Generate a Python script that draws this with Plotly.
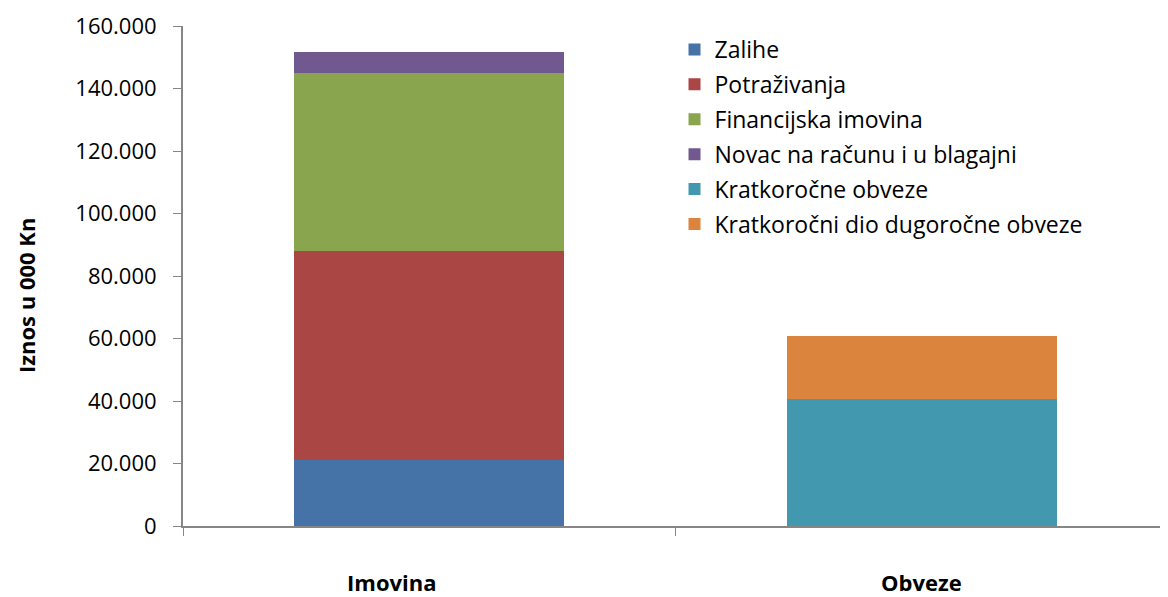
import plotly.graph_objects as go

categories = ["Imovina", "Obveze"]

asset_names = ["Zalihe", "Potraživanja", "Financijska imovina", "Novac na računu i u blagajni"]
asset_values = [21000, 66900, 57000, 6700]
asset_colors = ["#4572a7", "#aa4643", "#89a54e", "#71588f"]

liab_names = ["Kratkoročne obveze", "Kratkoročni dio dugoročne obveze"]
liab_values = [40500, 20200]
liab_colors = ["#4198af", "#db843d"]

FONT = "'Open Sans', sans-serif"
AXIS_GREY = "#868686"

fig = go.Figure()
for name, val, col in zip(asset_names, asset_values, asset_colors):
    fig.add_trace(go.Bar(x=[categories[0]], y=[val], name=name, legendgroup=name,
                         marker=dict(color=col, line=dict(width=0))))
for name, val, col in zip(liab_names, liab_values, liab_colors):
    fig.add_trace(go.Bar(x=[categories[1]], y=[val], name=name, legendgroup=name,
                         marker=dict(color=col, line=dict(width=0))))

# category labels sit low under the axis; the first one is a bit left of its bar
label_shift = {"Imovina": -38, "Obveze": 0}
annotations = [
    dict(text=f"<b>{c}</b>", xref="x", yref="paper", x=c, y=0,
         xanchor="center", yanchor="top", xshift=label_shift[c], yshift=-39,
         showarrow=False, font=dict(size=22))
    for c in categories
]
annotations.append(dict(
    text="<b>Iznos u 000 Kn</b>", textangle=-90,
    xref="paper", yref="paper", x=0, y=0.5, xanchor="center", yanchor="middle",
    xshift=-157, yshift=-20, showarrow=False, font=dict(size=22),
))

# page body has an 8px margin, so the figure is 8px smaller than the window
fig.update_layout(
    barmode="stack",
    bargap=0.452,
    width=1160, height=589,
    paper_bgcolor="white", plot_bgcolor="white",
    separators=",.",
    font=dict(family=FONT, color="black", size=21),
    margin=dict(l=175, r=0, t=18, b=71),
    legend=dict(
        x=0.499, y=0.996, xanchor="left", yanchor="top",
        traceorder="grouped", tracegroupgap=2, font=dict(size=23),
        bgcolor="rgba(0,0,0,0)", itemwidth=30,
    ),
    xaxis=dict(
        type="category", categoryarray=categories,
        showline=True, linecolor=AXIS_GREY, linewidth=2,
        ticks="outside", tickson="boundaries", ticklen=8, tickcolor=AXIS_GREY, tickwidth=1,
        showticklabels=False, showgrid=False,
    ),
    yaxis=dict(
        range=[0, 160000], dtick=20000, tickformat=",d",
        showline=True, linecolor=AXIS_GREY, linewidth=2,
        ticks="outside", ticklen=8, tickcolor=AXIS_GREY, tickwidth=1,
        ticklabelstandoff=12, tickfont=dict(size=22),
        showgrid=False, zeroline=False,
    ),
    annotations=annotations,
)

fig.write_html("out.html")
